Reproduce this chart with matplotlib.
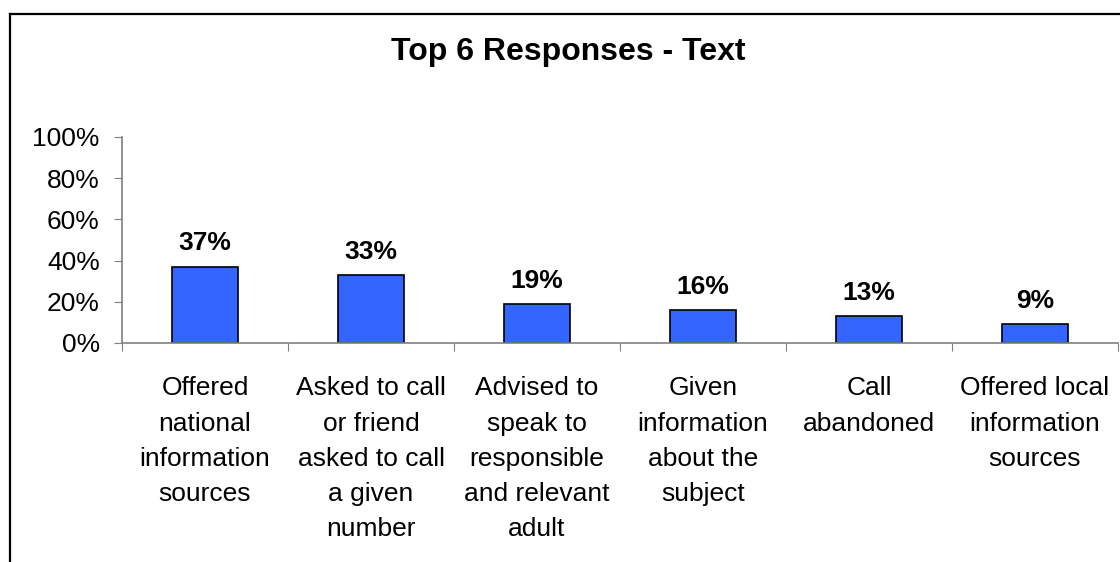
import matplotlib
matplotlib.use("Agg")
import matplotlib.pyplot as plt
from matplotlib.lines import Line2D
from matplotlib.ticker import FixedLocator, NullFormatter

plt.rcParams['font.family'] = ['Liberation Sans', 'DejaVu Sans']

categories = [
    "Offered\nnational\ninformation\nsources",
    "Asked to call\nor friend\nasked to call\na given\nnumber",
    "Advised to\nspeak to\nresponsible\nand relevant\nadult",
    "Given\ninformation\nabout the\nsubject",
    "Call\nabandoned",
    "Offered local\ninformation\nsources",
]
values = [37, 33, 19, 16, 13, 9]
y_ticks = [0, 20, 40, 60, 80, 100]

W, H = 1120, 562
fig = plt.figure(figsize=(W / 100, H / 100), dpi=100)
ax = fig.add_axes([122 / W, (H - 343) / H, (1118 - 122) / W, (343 - 137) / H])

x = list(range(len(values)))
bars = ax.bar(x, values, width=0.4, color="#3366FF", edgecolor="black", linewidth=1.2)

for xi, v in zip(x, values):
    ax.text(xi, v + 5.5, f"{v}%", ha="center", va="bottom",
            fontsize=19, fontweight="bold")

ax.set_xlim(-0.5, len(values) - 0.5)
ax.set_ylim(0, 100)

# category boundary ticks (major), labels on minor ticks
ax.xaxis.set_major_locator(FixedLocator([i - 0.5 for i in range(len(values) + 1)]))
ax.xaxis.set_major_formatter(NullFormatter())
ax.set_xticks(x, minor=True)
ax.set_xticklabels(categories, minor=True, fontsize=19, linespacing=1.59)
ax.tick_params(axis="x", which="major", length=6, color="#808080", direction="out")
ax.tick_params(axis="x", which="minor", length=0, pad=24)

ax.set_yticks(y_ticks)
ax.set_yticklabels([f"{t}%" for t in y_ticks], fontsize=19)
ax.tick_params(axis="y", length=6, color="#808080", pad=10)

for side in ("top", "right"):
    ax.spines[side].set_visible(False)
for side in ("left", "bottom"):
    ax.spines[side].set_color("#808080")
    ax.spines[side].set_linewidth(1.2)

fig.text(568 / W, 1 - 52 / H, "Top 6 Responses - Text", ha="center", va="center",
         fontsize=23, fontweight="bold")

# outer chart frame (cropped at right and bottom)
fig.add_artist(Line2D([9.5 / W, 9.5 / W], [0, 1 - 14 / H], color="black", linewidth=1.6))
fig.add_artist(Line2D([9.5 / W, 1], [1 - 14 / H, 1 - 14 / H], color="black", linewidth=1.6))

fig.savefig("out.png", dpi=100)
